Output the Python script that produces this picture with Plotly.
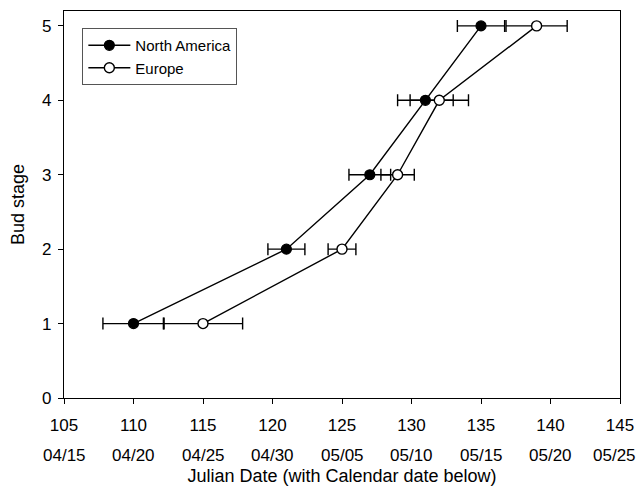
import plotly.graph_objects as go

stages = [1, 2, 3, 4, 5]
na_date = [110, 121, 127, 131, 135]
na_err = [2.2, 1.33, 1.5, 2.0, 1.7]
eu_date = [115, 125, 129, 132, 139]
eu_err = [2.85, 1.0, 1.2, 2.1, 2.2]

julian_ticks = [105, 110, 115, 120, 125, 130, 135, 140, 145]
calendar_labels = ["04/15", "04/20", "04/25", "04/30", "05/05", "05/10", "05/15", "05/20", "05/25"]
y_ticks = [0, 1, 2, 3, 4, 5]

FONT = "Liberation Sans, Arial, sans-serif"

fig = go.Figure()
fig.add_trace(go.Scatter(
    x=na_date, y=stages, mode="lines+markers", name="North America",
    line=dict(color="black", width=1.4),
    marker=dict(symbol="circle", size=10, color="black", line=dict(color="black", width=1.2)),
    error_x=dict(type="data", array=na_err, visible=True, color="black", thickness=1.4, width=6),
))
fig.add_trace(go.Scatter(
    x=eu_date, y=stages, mode="lines+markers", name="Europe",
    line=dict(color="black", width=1.4),
    marker=dict(symbol="circle", size=10, color="white", line=dict(color="black", width=1.4)),
    error_x=dict(type="data", array=eu_err, visible=True, color="black", thickness=1.4, width=6),
))

n = len(julian_ticks)
for i, (xv, lab) in enumerate(zip(julian_ticks, calendar_labels)):
    fig.add_annotation(x=xv, y=0, xref="x", yref="paper", text=lab, showarrow=False,
                       yanchor="middle", yshift=-57, xshift=(-6 if i == n - 1 else 0),
                       font=dict(family=FONT, size=17, color="black"))

fig.update_layout(
    width=639, height=488,
    margin=dict(l=64, r=19, t=11, b=90),
    paper_bgcolor="white", plot_bgcolor="white",
    font=dict(family=FONT, size=17, color="black"),
    showlegend=True,
    legend=dict(x=0.033, y=0.956, xanchor="left", yanchor="top",
                bordercolor="#555555", borderwidth=1, bgcolor="white",
                font=dict(family=FONT, size=15, color="black"),
                tracegroupgap=0, itemwidth=42),
    xaxis=dict(range=[105, 145], tickvals=julian_ticks, ticktext=[str(v) for v in julian_ticks],
               showgrid=False, zeroline=False, showline=True, mirror=True, automargin=False,
               linecolor="black", linewidth=1.3, ticks="outside", ticklen=5, tickcolor="black",
               tickfont=dict(family=FONT, size=17), ticklabelstandoff=6,
               title=dict(text="Julian Date (with Calendar date below)", standoff=35,
                          font=dict(family=FONT, size=18))),
    yaxis=dict(range=[0, 5.2], tickvals=y_ticks,
               showgrid=False, zeroline=False, showline=True, mirror=True, automargin=False,
               linecolor="black", linewidth=1.3, ticks="outside", ticklen=5, tickcolor="black",
               tickfont=dict(family=FONT, size=17), ticklabelstandoff=3,
               title=dict(text="Bud stage", standoff=12, font=dict(family=FONT, size=18))),
)

fig.write_html("out.html", config={"displayModeBar": False},
               post_script="document.body.style.margin='0';document.body.style.overflow='hidden';")
